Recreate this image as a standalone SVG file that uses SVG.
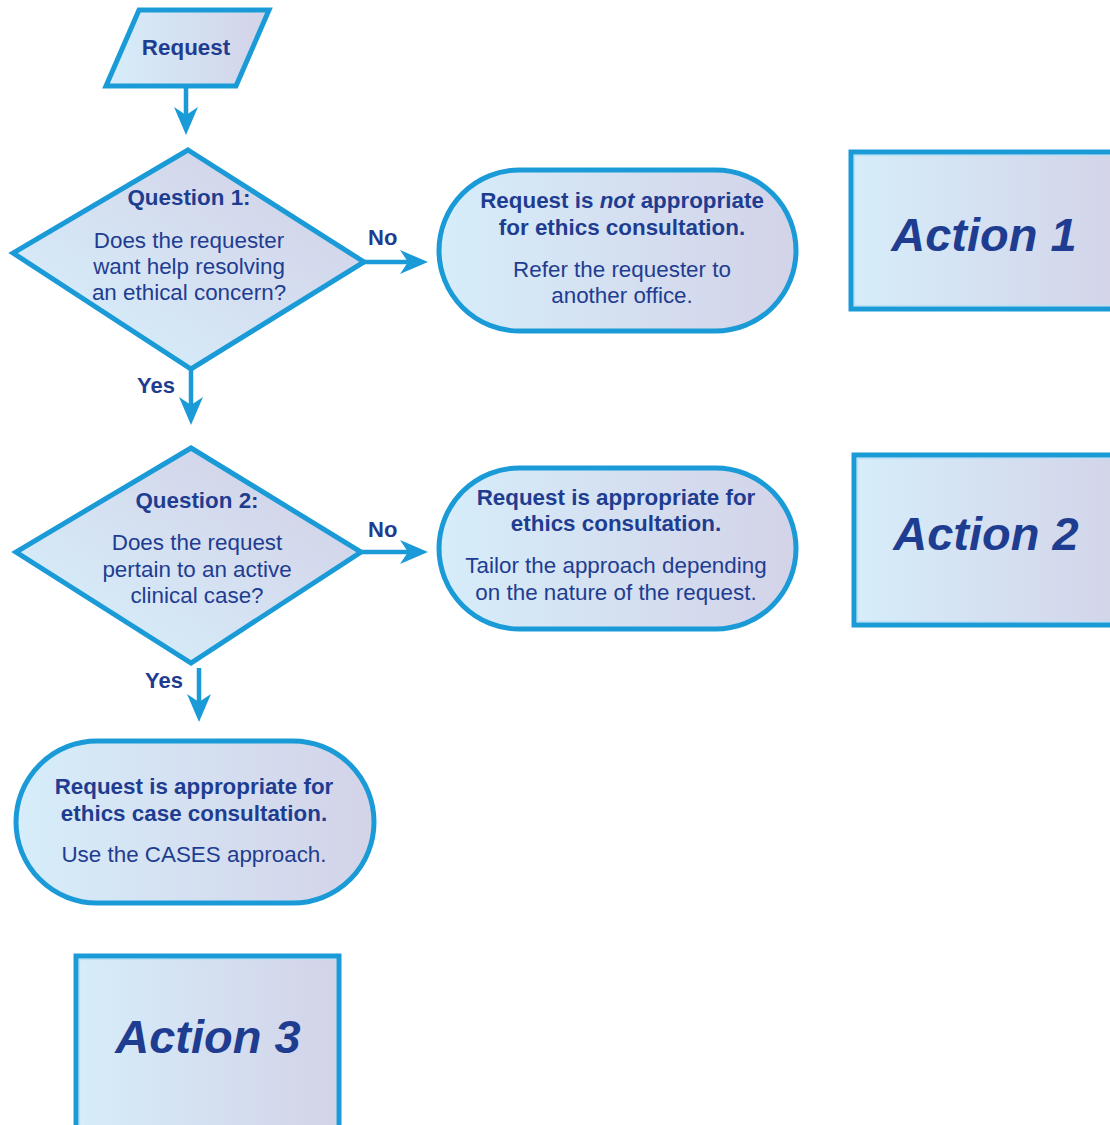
<svg xmlns="http://www.w3.org/2000/svg" width="1110" height="1125" viewBox="0 0 1110 1125">
<defs>
<linearGradient id="gh" x1="0" y1="0" x2="1" y2="0">
<stop offset="0" stop-color="#d6edfa"/>
<stop offset="1" stop-color="#d3d3e8"/>
</linearGradient>
<linearGradient id="gd" x1="0" y1="1" x2="1" y2="0">
<stop offset="0.15" stop-color="#d6edfa"/>
<stop offset="0.85" stop-color="#d3d3e8"/>
</linearGradient>
<marker id="ah" markerUnits="userSpaceOnUse" viewBox="-24 -14 34 28" refX="0" refY="0" markerWidth="34" markerHeight="28" orient="auto">
<path d="M8,0 L-20,-12 L-12,0 L-20,12 Z" fill="#1a9bd7"/>
</marker>
</defs>
<style>
.shape{stroke:#1a9bd7;stroke-width:5;stroke-linejoin:miter}
.box{fill:url(#gh)}
.dia{fill:url(#gd)}
.inner{fill:none;stroke:#b9e0f4;stroke-width:1.2}
text{font-family:"Liberation Sans",Arial,sans-serif;fill:#1f3d90;font-size:22.4px;text-anchor:middle}
.b{font-weight:bold}
.act{font-weight:bold;font-style:italic;font-size:47px}
.conn line{stroke:#1a9bd7;stroke-width:4.5;marker-end:url(#ah)}
.lbl{font-weight:bold;text-anchor:start;font-size:22px}
</style>

<g id="request">
<polygon class="shape box" points="139,10 269,10 236,86 106,86"/>
<text class="b" x="186" y="55">Request</text>
</g>

<g id="question1">
<polygon class="shape dia" points="188,150 364,262 191,369 13,253"/>
<text class="b" x="189" y="205">Question 1:</text>
<text x="189" y="248">Does the requester</text>
<text x="189" y="274">want help resolving</text>
<text x="189" y="300">an ethical concern?</text>
</g>

<g id="not-appropriate">
<rect class="shape box" x="439" y="170" width="357" height="161" rx="80.5" ry="80.5"/>
<text class="b" x="622" y="208">Request is <tspan font-style="italic">not</tspan> appropriate</text>
<text class="b" x="622" y="235">for ethics consultation.</text>
<text x="622" y="277">Refer the requester to</text>
<text x="622" y="303">another office.</text>
</g>

<g id="action1">
<rect class="shape box" x="851" y="152" width="280" height="157"/>
<rect class="inner" x="854.5" y="155.5" width="280" height="150"/>
<text class="act" x="984" y="251">Action 1</text>
</g>

<g id="question2">
<polygon class="shape dia" points="191,448 361,552 191,663 16,552"/>
<text class="b" x="197" y="508">Question 2:</text>
<text x="197" y="550">Does the request</text>
<text x="197" y="577">pertain to an active</text>
<text x="197" y="603">clinical case?</text>
</g>

<g id="appropriate">
<rect class="shape box" x="439" y="468" width="357" height="161" rx="80.5" ry="80.5"/>
<text class="b" x="616" y="505">Request is appropriate for</text>
<text class="b" x="616" y="531">ethics consultation.</text>
<text x="616" y="573">Tailor the approach depending</text>
<text x="616" y="600">on the nature of the request.</text>
</g>

<g id="action2">
<rect class="shape box" x="854" y="455" width="280" height="170"/>
<rect class="inner" x="857.5" y="458.5" width="280" height="163"/>
<text class="act" x="986" y="550">Action 2</text>
</g>

<g id="case-consultation">
<rect class="shape box" x="16" y="741" width="358" height="162" rx="81" ry="81"/>
<text class="b" x="194" y="794">Request is appropriate for</text>
<text class="b" x="194" y="821">ethics case consultation.</text>
<text x="194" y="862">Use the CASES approach.</text>
</g>

<g id="action3">
<rect class="shape box" x="76" y="956" width="263" height="200"/>
<rect class="inner" x="79.5" y="959.5" width="256" height="200"/>
<text class="act" x="208" y="1053">Action 3</text>
</g>

<g id="connectors" class="conn">
<line x1="186" y1="86" x2="186" y2="127"/>
<line x1="364" y1="262" x2="420" y2="262"/>
<line x1="191" y1="369" x2="191" y2="417"/>
<line x1="361" y1="552" x2="420" y2="552"/>
<line x1="199" y1="668" x2="199" y2="714"/>
<text class="lbl" x="368" y="245">No</text>
<text class="lbl" x="137" y="393">Yes</text>
<text class="lbl" x="368" y="537">No</text>
<text class="lbl" x="145" y="688">Yes</text>
</g>
</svg>
